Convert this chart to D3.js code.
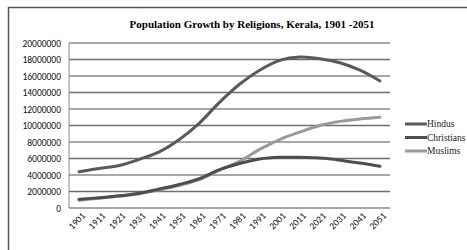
<!DOCTYPE html>
<html>
<head>
<meta charset="utf-8">
<script src="https://cdn.jsdelivr.net/npm/d3@7"></script>
<style>
  body { margin: 0; background: #fff; }
</style>
</head>
<body>
<div id="chart"></div>
<script>
// census years + projections
const years = ["1901", "1911", "1921", "1931", "1941", "1951", "1961", "1971",
    "1981", "1991", "2001", "2011", "2021", "2031", "2041", "2051"];

const hindus = [4400000, 4800000, 5150000, 5900000, 6800000, 8300000, 10300000, 12800000,
    15000000, 16700000, 17900000, 18300000, 18100000, 17600000, 16700000, 15400000];
const christians = [1050000, 1250000, 1480000, 1800000, 2300000, 2850000, 3550000, 4650000,
    5400000, 5950000, 6150000, 6150000, 6050000, 5800000, 5450000, 5050000];
const muslims = [950000, 1180000, 1420000, 1720000, 2200000, 2750000, 3450000, 4600000,
    5650000, 7100000, 8300000, 9200000, 10000000, 10500000, 10800000, 11000000];

const yTicks = [0, 2000000, 4000000, 6000000, 8000000, 10000000, 12000000, 14000000,
    16000000, 18000000, 20000000];

const seriesNames = ["Hindus", "Christians", "Muslims"];

var width = 467;
var height = 250;

const svg = d3.select("#chart")
    .append("svg")
    .attr("width", width)
    .attr("height", height)
    .style("background-color", "#fff");

// outer frame of the chart
svg.append("rect")
    .attr("x", 8.5)
    .attr("y", 7.5)
    .attr("width", 470)
    .attr("height", 260)
    .attr("fill", "none")
    .attr("stroke", "#555")
    .attr("stroke-width", 1.5);

svg.append("text")
    .text("Population Growth by Religions, Kerala, 1901 -2051")
    .attr("x", 252)
    .attr("y", 28)
    .attr("text-anchor", "middle")
    .style("font-family", "Liberation Serif, Times New Roman, serif")
    .style("font-weight", "bold")
    .style("font-size", "11px");

const plotLeft = 69, plotRight = 390, plotTop = 43, plotBottom = 208;

const x = d3.scalePoint()
    .domain(years)
    .range([plotLeft, plotRight])
    .padding(0.5);

const y = d3.scaleLinear()
    .domain([0, 20000000])
    .range([plotBottom, plotTop]);

// gridlines
svg.append("g")
    .selectAll("line")
    .data(yTicks)
    .enter()
    .append("line")
    .attr("x1", plotLeft)
    .attr("x2", plotRight)
    .attr("y1", d => y(d))
    .attr("y2", d => y(d))
    .attr("stroke", (d, i) => i % 2 === 0 ? "#8a8a8a" : "#6e6e6e")
    .attr("stroke-width", 1.5);

// left axis line
svg.append("line")
    .attr("x1", plotLeft)
    .attr("x2", plotLeft)
    .attr("y1", plotTop)
    .attr("y2", plotBottom)
    .attr("stroke", "#888")
    .attr("stroke-width", 1);

const yAxis = d3.axisLeft(y)
    .tickValues(yTicks)
    .tickSize(0)
    .tickPadding(8)
    .tickFormat(d3.format("d"));

svg.append("g")
    .attr("transform", `translate(${plotLeft},0)`)
    .call(yAxis)
    .call(g => g.select(".domain").remove())
    .selectAll("text")
    .style("font-family", "Carlito, Liberation Sans, Arial, sans-serif")
    .style("font-size", "9.5px")
    .attr("fill", "#111");

const xAxis = d3.axisBottom(x).tickSize(0);

svg.append("g")
    .attr("transform", `translate(0,${plotBottom})`)
    .call(xAxis)
    .call(g => g.select(".domain").remove())
    .selectAll("text")
    .attr("text-anchor", "end")
    .attr("transform", "translate(4,6) rotate(-45)")
    .attr("dy", "0.35em")
    .attr("y", 0)
    .style("font-family", "Carlito, Liberation Sans, Arial, sans-serif")
    .style("font-size", "9.5px")
    .attr("fill", "#111");

const colors = {"Hindus": "#5a5a5a", "Christians": "#4e4e4e", "Muslims": "#9a9a9a"};
const values = {"Hindus": hindus, "Christians": christians, "Muslims": muslims};

const line = d3.line()
    .x((d, i) => x(years[i]))
    .y(d => y(d))
    .curve(d3.curveCatmullRom.alpha(0.5));

["Muslims", "Christians", "Hindus"].forEach(function (name) {
    svg.append("path")
        .datum(values[name])
        .attr("d", line)
        .attr("fill", "none")
        .attr("stroke", colors[name])
        .attr("stroke-width", 3)
        .attr("stroke-linecap", "round");
});

// legend
const legend = svg.append("g")
    .selectAll("g")
    .data(seriesNames)
    .enter()
    .append("g")
    .attr("transform", (d, i) => `translate(405,${124 + i * 13.5})`);

legend.append("line")
    .attr("x1", 0)
    .attr("x2", 22)
    .attr("stroke", d => colors[d])
    .attr("stroke-width", 3);

legend.append("text")
    .text(d => d)
    .attr("x", 22)
    .attr("dy", "0.35em")
    .style("font-family", "Liberation Serif, Times New Roman, serif")
    .style("font-size", "9.5px")
    .attr("fill", "#222");
</script>
</body>
</html>
